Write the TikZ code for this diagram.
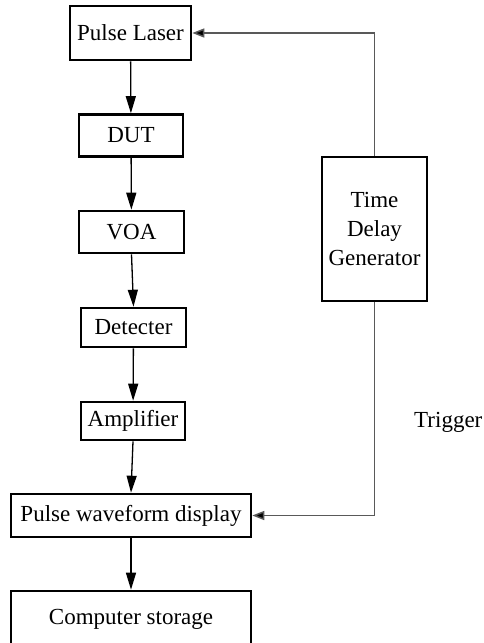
\documentclass[tikz,border=0pt]{standalone}
\usepackage{fontspec}
\setmainfont{Liberation Serif}
\usetikzlibrary{arrows.meta}
\begin{document}
\begin{tikzpicture}[x=1pt,y=-1pt,
  font=\fontsize{23}{29}\selectfont,
  blk/.style={draw, line width=2.6pt, inner sep=0pt, align=center},
  flow/.style={line width=1.3pt, -{Triangle[length=17pt,width=10pt]}},
  trig/.style={line width=1.5pt, draw=black!65, -{Triangle[length=12pt,width=9pt,fill=black]}}]
  \useasboundingbox (0,0) rectangle (483,643);
  % signal chain
  \node[blk, minimum width=121pt, minimum height=54pt] (pl)  at (130.5,33)  {Pulse Laser};
  \node[blk, minimum width=104pt, minimum height=42pt] (dut) at (131,135.5) {DUT};
  \node[blk, minimum width=105pt, minimum height=42pt] (voa) at (131.5,232) {VOA};
  \node[blk, minimum width=105pt, minimum height=39pt] (det) at (133.5,327.5) {Detecter};
  \node[blk, minimum width=104pt, minimum height=38pt] (amp) at (133,421)   {Amplifier};
  \node[blk, minimum width=240pt, minimum height=43pt] (pwd) at (131,515.5) {Pulse waveform display};
  \node[blk, minimum width=240pt, minimum height=56pt] (cs)  at (131,619)   {Computer storage};
  % trigger source
  \node[blk, minimum width=105pt, minimum height=144pt] (tdg) at (374.5,229) {Time\\Delay\\Generator};
  \node[anchor=west, inner sep=0pt] (trg) at (414,422) {Trigger};
  % connectors
  \draw[flow] (pl) -- (dut);
  \draw[flow] (dut) -- (voa);
  \draw[flow] (voa.south) -- (det.north);
  \draw[flow] (det) -- (amp);
  \draw[flow] (amp.south) -- (pwd.north);
  \draw[flow] (pwd) -- (cs);
  \draw[trig] (tdg.north) |- (pl.east);
  \draw[trig] (tdg.south) |- (pwd.east);
\end{tikzpicture}
\end{document}
